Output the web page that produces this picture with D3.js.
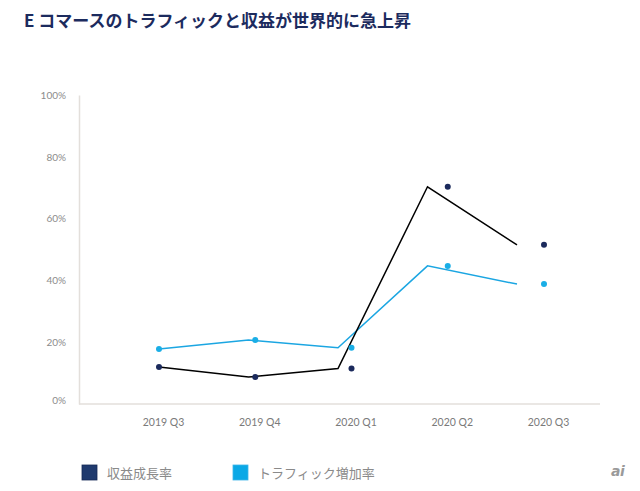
<!DOCTYPE html>
<html><head><meta charset="utf-8">
<script src="https://cdn.jsdelivr.net/npm/d3@7"></script>
<style>
html,body{margin:0;padding:0;background:#fff;}
svg{display:block;}
</style></head>
<body>
<script>
// ---- data ----
const quarters = ["2019 Q3", "2019 Q4", "2020 Q1", "2020 Q2", "2020 Q3"];
const revenueGrowth = [12.0, 8.7, 11.5, 70.3, 51.5];   // 収益成長率 (%)
const trafficGrowth = [17.8, 20.7, 18.2, 44.7, 38.8];  // トラフィック増加率 (%)
const yTicks = [0, 20, 40, 60, 80, 100];
const seriesNames = ["収益成長率", "トラフィック増加率"];
const titleText = "E コマースのトラフィックと収益が世界的に急上昇";

// ---- layout ----
const W = 640, H = 491;
const plotLeft = 79, plotRight = 600, plotTop = 95, plotBottom = 404;
const darkDot = "#1b2a5c", blueDot = "#1aaee6";
const darkSwatch = "#1f3a6e", blueSwatch = "#0aa8e6";

const svg = d3.select("body").append("svg").attr("width", W).attr("height", H);

const x = d3.scalePoint().domain(quarters).range([159, 544]);
const xLine = d3.scalePoint().domain(quarters).range([159, 517]);
const y = d3.scaleLinear().domain([0, 100]).range([plotBottom, plotTop]);

// title
svg.append("text").attr("x", 24).attr("y", 27)
  .attr("font-family", "'Noto Sans CJK JP', 'Noto Sans', sans-serif")
  .attr("font-weight", 700).attr("font-size", 17).attr("fill", "#1c2b5e")
  .text(titleText);

// y axis
const yAxis = d3.axisLeft(y).tickValues(yTicks).tickSize(0).tickPadding(13)
  .tickFormat(d => d + "%");
const gy = svg.append("g").attr("transform", `translate(${plotLeft},0)`).call(yAxis);
gy.select(".domain").attr("stroke", "#e3dfdb").attr("stroke-width", 1.5);
gy.selectAll("text").attr("font-family", "Lato, 'Open Sans', sans-serif")
  .attr("font-size", 10).attr("fill", "#8c8c8c")
  .attr("dy", d => d === 0 ? "-0.05em" : "0.32em");

// x axis line
svg.append("line").attr("x1", plotLeft).attr("x2", plotRight)
  .attr("y1", y(0)).attr("y2", y(0))
  .attr("stroke", "#e3dfdb").attr("stroke-width", 1.5);

// x labels
const xAxis = d3.axisBottom(x).tickSize(0).tickPadding(15);
const gx = svg.append("g").attr("transform", `translate(4,${y(0)})`).call(xAxis);
gx.select(".domain").remove();
gx.selectAll("text").attr("font-family", "Lato, 'Open Sans', sans-serif")
  .attr("font-size", 10.5).attr("fill", "#7a7a7a");

// lines
const mkLine = vals => d3.line().x((d, i) => xLine(quarters[i])).y(d => y(d))(vals);
svg.append("path").attr("d", mkLine(trafficGrowth)).attr("fill", "none")
  .attr("stroke", "#1ba6e2").attr("stroke-width", 1.5);
svg.append("path").attr("d", mkLine(revenueGrowth)).attr("fill", "none")
  .attr("stroke", "#000").attr("stroke-width", 1.5);

// dots
svg.append("g").selectAll("circle").data(trafficGrowth).join("circle")
  .attr("cx", (d, i) => x(quarters[i])).attr("cy", d => y(d)).attr("r", 3)
  .attr("fill", blueDot);
svg.append("g").selectAll("circle").data(revenueGrowth).join("circle")
  .attr("cx", (d, i) => x(quarters[i])).attr("cy", d => y(d)).attr("r", 3)
  .attr("fill", darkDot);

// legend
const legendX = [82, 233];
const swatches = [darkSwatch, blueSwatch];
const lg = svg.append("g").selectAll("g").data(seriesNames).join("g")
  .attr("transform", (d, i) => `translate(${legendX[i]},465)`);
lg.append("rect").attr("width", 15).attr("height", 15)
  .attr("fill", (d, i) => swatches[i])
  .attr("stroke", (d, i) => i === 0 ? "#142a55" : "#3db5e8").attr("stroke-width", 0.8);
lg.append("text").attr("x", 25).attr("y", 12.5)
  .attr("font-family", "'Noto Sans CJK JP', sans-serif").attr("font-size", 13)
  .attr("fill", "#8a8a8a").text(d => d);

// watermark
svg.append("text").attr("x", 611).attr("y", 476)
  .attr("font-family", "'DejaVu Sans', sans-serif").attr("font-style", "italic")
  .attr("font-weight", 700).attr("font-size", 14).attr("fill", "#9a9a9a")
  .attr("letter-spacing", -0.5).text("ai");
</script>
</body></html>
